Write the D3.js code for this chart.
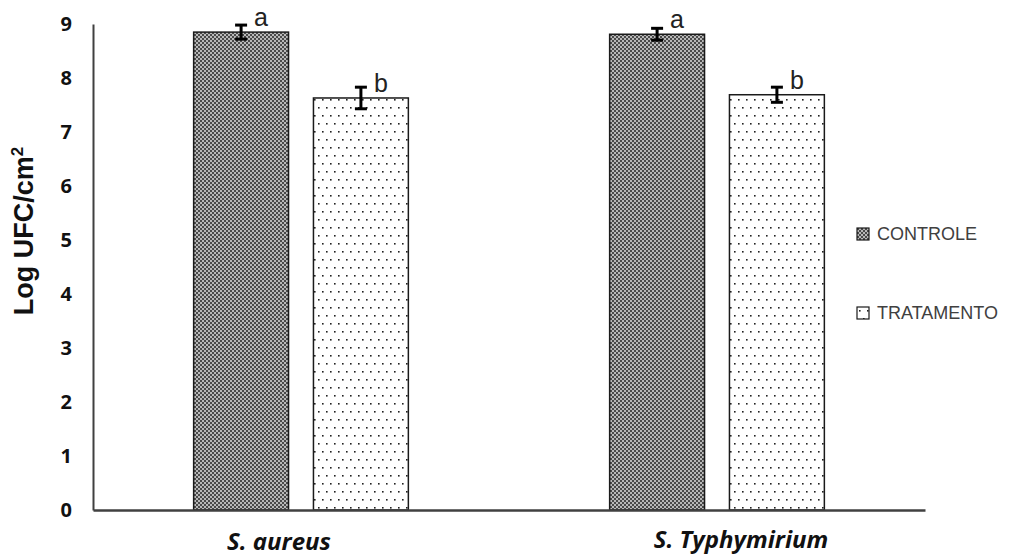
<!DOCTYPE html>
<html>
<head>
<meta charset="utf-8">
<script src="https://cdn.jsdelivr.net/npm/d3@7"></script>
<style>
  body { margin: 0; background: #fff; }
  svg { display: block; }
</style>
</head>
<body>
<div id="chart"></div>
<script>
// data
var categories = ["S. aureus", "S. Typhymirium"];
var series = ["CONTROLE", "TRATAMENTO"];
var controle = [8.85, 8.81];
var controleErr = [0.13, 0.11];
var tratamento = [7.63, 7.69];
var tratamentoErr = [0.2, 0.14];
var letters = [["a", "b"], ["a", "b"]];
var yTicks = [0, 1, 2, 3, 4, 5, 6, 7, 8, 9];

var width = 1018, height = 558;
var margin = {top: 24, right: 93, bottom: 48, left: 93};

var rows = [];
categories.forEach(function (c, i) {
    rows.push({cat: c, s: series[0], v: controle[i], e: controleErr[i], l: letters[i][0]});
    rows.push({cat: c, s: series[1], v: tratamento[i], e: tratamentoErr[i], l: letters[i][1]});
});

var svg = d3.select("#chart").append("svg")
    .attr("width", width)
    .attr("height", height);

var defs = svg.append("defs");

// dark checker pattern for controle
var p1 = defs.append("pattern")
    .attr("id", "checker")
    .attr("patternUnits", "userSpaceOnUse")
    .attr("width", 4).attr("height", 4);
p1.append("rect").attr("width", 4).attr("height", 4).attr("fill", "#b8b8b8");
p1.append("rect").attr("width", 2).attr("height", 2).attr("fill", "#4a4a4a");
p1.append("rect").attr("x", 2).attr("y", 2).attr("width", 2).attr("height", 2).attr("fill", "#4a4a4a");

// sparse dots for tratamento
var p2 = defs.append("pattern")
    .attr("id", "dots")
    .attr("patternUnits", "userSpaceOnUse")
    .attr("width", 8).attr("height", 16);
p2.append("rect").attr("width", 8).attr("height", 16).attr("fill", "#fff");
p2.append("rect").attr("x", 2).attr("y", 3).attr("width", 1.6).attr("height", 1.6).attr("fill", "#222");
p2.append("rect").attr("x", 6).attr("y", 11).attr("width", 1.6).attr("height", 1.6).attr("fill", "#222");

var fills = {"CONTROLE": "url(#checker)", "TRATAMENTO": "url(#dots)"};

var x0 = d3.scaleBand()
    .domain(categories)
    .range([margin.left, 925])
    .padding(0);

var x1 = d3.scaleBand()
    .domain(series)
    .range([0, x0.bandwidth()])
    .paddingInner(0.208)
    .paddingOuter(0.84);

var y = d3.scaleLinear()
    .domain([0, 9])
    .range([height - margin.bottom, margin.top]);

// bars
var bar = svg.append("g")
    .selectAll("rect")
    .data(rows)
    .enter()
    .append("rect")
    .attr("x", d => x0(d.cat) + x1(d.s))
    .attr("y", d => y(d.v))
    .attr("width", x1.bandwidth())
    .attr("height", d => y(0) - y(d.v))
    .attr("fill", d => fills[d.s])
    .attr("stroke", "#1a1a1a")
    .attr("stroke-width", 1.5);

// error bars
var err = svg.append("g")
    .selectAll("g")
    .data(rows)
    .enter()
    .append("g")
    .attr("transform", d => `translate(${x0(d.cat) + x1(d.s) + x1.bandwidth() / 2},0)`)
    .attr("stroke", "#000")
    .attr("stroke-width", 3);
err.append("line")
    .attr("y1", d => y(d.v + d.e)).attr("y2", d => y(d.v - d.e));
err.append("line")
    .attr("x1", -6).attr("x2", 6)
    .attr("y1", d => y(d.v + d.e)).attr("y2", d => y(d.v + d.e));
err.append("line")
    .attr("x1", -6).attr("x2", 6)
    .attr("y1", d => y(d.v - d.e)).attr("y2", d => y(d.v - d.e));

// significance letters
svg.append("g")
    .selectAll("text")
    .data(rows)
    .enter()
    .append("text")
    .attr("x", d => x0(d.cat) + x1(d.s) + x1.bandwidth() / 2 + 13)
    .attr("y", d => y(d.v) - 6)
    .attr("font-family", "Liberation Sans, Arial, sans-serif")
    .attr("font-size", 25)
    .attr("fill", "#222")
    .text(d => d.l);

// axes
var yAxis = g => g
    .attr("transform", `translate(${margin.left},0)`)
    .call(d3.axisLeft(y).tickValues(yTicks).tickSize(0).tickPadding(21).tickFormat(d3.format("d")))
    .call(g => g.select(".domain").attr("stroke", "#404040").attr("stroke-width", 2))
    .call(g => g.selectAll("text")
        .attr("font-family", "Open Sans, sans-serif")
        .attr("font-weight", "bold")
        .attr("font-size", 20)
        .attr("fill", "#111"));

var xAxis = g => g
    .attr("transform", `translate(0,${y(0)})`)
    .call(d3.axisBottom(x0).tickSize(0).tickFormat(""))
    .call(g => g.select(".domain").attr("stroke", "#404040").attr("stroke-width", 2.5));

svg.append("g").attr("class", "y-axis").call(yAxis);
svg.append("g").attr("class", "x-axis").call(xAxis);

// category labels
var labelNudge = [-22, 24];
svg.append("g")
    .selectAll("text")
    .data(categories)
    .enter()
    .append("text")
    .attr("x", (d, i) => x0(d) + x0.bandwidth() / 2 + labelNudge[i])
    .attr("y", (d, i) => i === 0 ? 550 : 548)
    .attr("text-anchor", "middle")
    .attr("font-family", "Open Sans, sans-serif")
    .attr("font-weight", "bold")
    .attr("font-style", "italic")
    .attr("font-size", 24)
    .attr("fill", "#111")
    .text(d => d);

// y title
var title = svg.append("text")
    .attr("transform", "translate(33,231) rotate(-90)")
    .attr("text-anchor", "middle")
    .attr("font-family", "Liberation Sans, Arial, sans-serif")
    .attr("font-weight", "bold")
    .attr("font-size", 27)
    .attr("fill", "#111");
title.append("tspan").text("Log UFC/cm");
title.append("tspan").attr("dy", -10).attr("font-size", 17).text("2");

// legend
var legend = svg.append("g")
    .selectAll("g")
    .data(series)
    .enter()
    .append("g")
    .attr("transform", (d, i) => `translate(857,${228 + i * 79})`);
legend.append("rect")
    .attr("width", 12).attr("height", 12)
    .attr("fill", d => fills[d])
    .attr("stroke", "#1a1a1a")
    .attr("stroke-width", 1.2);
legend.append("text")
    .attr("x", 20)
    .attr("y", 6)
    .attr("dy", "0.35em")
    .attr("font-family", "Liberation Sans, Arial, sans-serif")
    .attr("font-size", 18)
    .attr("fill", "#404040")
    .text(d => d);
</script>
</body>
</html>
